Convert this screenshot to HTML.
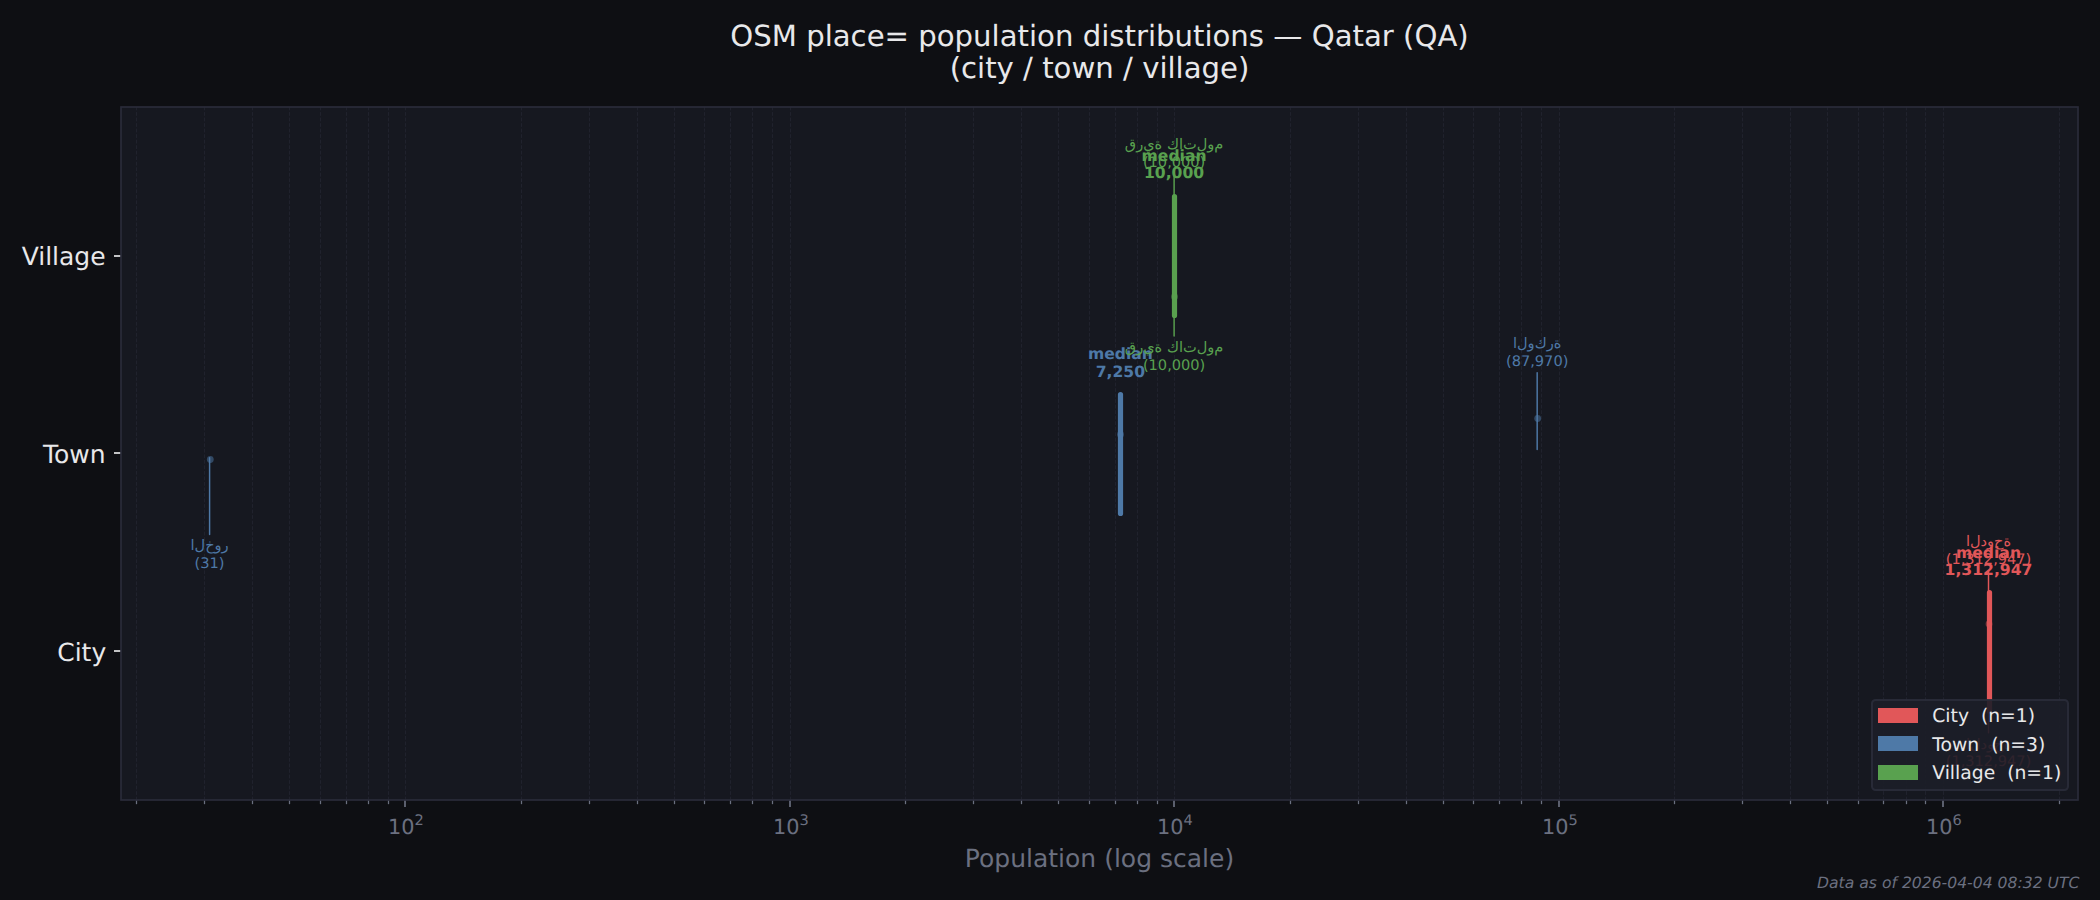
<!DOCTYPE html>
<html lang="en"><head><meta charset="utf-8"><title>OSM place= population distributions — Qatar (QA)</title>
<style>html,body{margin:0;padding:0;background:#0e0f13;overflow:hidden}svg{display:block}text{font-family:"DejaVu Sans","Liberation Sans",sans-serif;text-rendering:geometricPrecision}
.ar{unicode-bidi:bidi-override;direction:ltr;font-feature-settings:"init" 0,"medi" 0,"fina" 0,"isol" 0,"rlig" 0,"liga" 0,"calt" 0}
</style></head><body>
<svg width="2100" height="900" viewBox="0 0 2100 900">
<rect x="0" y="0" width="2100" height="900" fill="#0e0f13"/>
<rect x="121" y="107" width="1957" height="693" fill="#161820"/>
<g stroke="#2a2c3a" stroke-opacity="0.5" stroke-width="1.000" stroke-dasharray="3.854 1.667" stroke-dashoffset="0.50" fill="none">
<path d="M136.5 800 V107"/>
<path d="M204.5 800 V107"/>
<path d="M252.5 800 V107"/>
<path d="M289.5 800 V107"/>
<path d="M320.5 800 V107"/>
<path d="M346.5 800 V107"/>
<path d="M368.5 800 V107"/>
<path d="M388.5 800 V107"/>
<path d="M405.5 800 V107"/>
<path d="M521.5 800 V107"/>
<path d="M589.5 800 V107"/>
<path d="M637.5 800 V107"/>
<path d="M674.5 800 V107"/>
<path d="M704.5 800 V107"/>
<path d="M730.5 800 V107"/>
<path d="M752.5 800 V107"/>
<path d="M772.5 800 V107"/>
<path d="M790.5 800 V107"/>
<path d="M905.5 800 V107"/>
<path d="M973.5 800 V107"/>
<path d="M1021.5 800 V107"/>
<path d="M1058.5 800 V107"/>
<path d="M1089.5 800 V107"/>
<path d="M1115.5 800 V107"/>
<path d="M1137.5 800 V107"/>
<path d="M1157.5 800 V107"/>
<path d="M1174.5 800 V107"/>
<path d="M1290.5 800 V107"/>
<path d="M1358.5 800 V107"/>
<path d="M1406.5 800 V107"/>
<path d="M1443.5 800 V107"/>
<path d="M1473.5 800 V107"/>
<path d="M1499.5 800 V107"/>
<path d="M1521.5 800 V107"/>
<path d="M1541.5 800 V107"/>
<path d="M1559.5 800 V107"/>
<path d="M1674.5 800 V107"/>
<path d="M1742.5 800 V107"/>
<path d="M1790.5 800 V107"/>
<path d="M1827.5 800 V107"/>
<path d="M1858.5 800 V107"/>
<path d="M1883.5 800 V107"/>
<path d="M1906.5 800 V107"/>
<path d="M1925.5 800 V107"/>
<path d="M1943.5 800 V107"/>
<path d="M2059.5 800 V107"/>
</g>
<circle cx="1989.01" cy="624.00" r="3.400" fill="#e15759" fill-opacity="0.5"/>
<circle cx="210.29" cy="459.50" r="3.400" fill="#4e79a7" fill-opacity="0.5"/>
<circle cx="1120.50" cy="434.50" r="3.400" fill="#4e79a7" fill-opacity="0.5"/>
<circle cx="1537.67" cy="418.50" r="3.400" fill="#4e79a7" fill-opacity="0.5"/>
<circle cx="1174.50" cy="296.70" r="3.400" fill="#59a14f" fill-opacity="0.5"/>
<text x="1988.51" y="557.57" font-size="15.625" fill="#e15759" text-anchor="middle" font-weight="bold">median</text>
<text x="1988.51" y="575.06" font-size="15.625" fill="#e15759" text-anchor="middle" font-weight="bold">1,312,947</text>
<text x="1120.40" y="359.27" font-size="15.625" fill="#4e79a7" text-anchor="middle" font-weight="bold">median</text>
<text x="1120.40" y="376.76" font-size="15.625" fill="#4e79a7" text-anchor="middle" font-weight="bold">7,250</text>
<text x="1174.10" y="160.87" font-size="15.625" fill="#59a14f" text-anchor="middle" font-weight="bold">median</text>
<text x="1174.10" y="178.36" font-size="15.625" fill="#59a14f" text-anchor="middle" font-weight="bold">10,000</text>
<path d="M1989.50 592.50 V711.50" stroke="#e15759" stroke-width="5.208" stroke-linecap="round" fill="none"/>
<path d="M1120.50 394.50 V513.50" stroke="#4e79a7" stroke-width="5.208" stroke-linecap="round" fill="none"/>
<path d="M1174.50 196.50 V315.50" stroke="#59a14f" stroke-width="5.208" stroke-linecap="round" fill="none"/>
<path d="M1988.51 571.10 V647.73" stroke="#e15759" stroke-width="1.458" stroke-linecap="round" fill="none"/>
<text x="1988.51" y="545.97" font-size="14.583" fill="#e15759" text-anchor="middle" class="ar">الدوحة</text>
<text x="1988.51" y="563.87" font-size="14.583" fill="#e15759" text-anchor="middle">(1,312,947)</text>
<path d="M1988.51 732.80 V656.07" stroke="#e15759" stroke-width="1.458" stroke-linecap="round" fill="none"/>
<text x="1988.51" y="748.50" font-size="14.583" fill="#e15759" text-anchor="middle" class="ar">الدوحة</text>
<text x="1988.51" y="766.30" font-size="14.583" fill="#e15759" text-anchor="middle">(1,312,947)</text>
<path d="M1537.17 372.80 V449.43" stroke="#4e79a7" stroke-width="1.458" stroke-linecap="round" fill="none"/>
<text x="1537.17" y="347.67" font-size="14.583" fill="#4e79a7" text-anchor="middle" class="ar">الوكرة</text>
<text x="1537.17" y="365.57" font-size="14.583" fill="#4e79a7" text-anchor="middle">(87,970)</text>
<path d="M209.59 534.50 V457.77" stroke="#4e79a7" stroke-width="1.458" stroke-linecap="round" fill="none"/>
<text x="209.59" y="550.20" font-size="14.583" fill="#4e79a7" text-anchor="middle" class="ar">الخور</text>
<text x="209.59" y="568.00" font-size="14.583" fill="#4e79a7" text-anchor="middle">(31)</text>
<path d="M1174.10 174.40 V251.03" stroke="#59a14f" stroke-width="1.458" stroke-linecap="round" fill="none"/>
<text x="1174.10" y="149.27" font-size="14.583" fill="#59a14f" text-anchor="middle" class="ar">قرية كاتلوم</text>
<text x="1174.10" y="167.17" font-size="14.583" fill="#59a14f" text-anchor="middle">(10,000)</text>
<path d="M1174.10 336.10 V259.37" stroke="#59a14f" stroke-width="1.458" stroke-linecap="round" fill="none"/>
<text x="1174.10" y="351.80" font-size="14.583" fill="#59a14f" text-anchor="middle" class="ar">قرية كاتلوم</text>
<text x="1174.10" y="369.60" font-size="14.583" fill="#59a14f" text-anchor="middle">(10,000)</text>
<g stroke="#6b7080" fill="none">
<path d="M405 800 V807" stroke-width="1.667"/>
<path d="M790 800 V807" stroke-width="1.667"/>
<path d="M1174 800 V807" stroke-width="1.667"/>
<path d="M1559 800 V807" stroke-width="1.667"/>
<path d="M1943 800 V807" stroke-width="1.667"/>
<path d="M136.5 800 V804.17" stroke-width="1.250"/>
<path d="M204.5 800 V804.17" stroke-width="1.250"/>
<path d="M252.5 800 V804.17" stroke-width="1.250"/>
<path d="M289.5 800 V804.17" stroke-width="1.250"/>
<path d="M320.5 800 V804.17" stroke-width="1.250"/>
<path d="M346.5 800 V804.17" stroke-width="1.250"/>
<path d="M368.5 800 V804.17" stroke-width="1.250"/>
<path d="M388.5 800 V804.17" stroke-width="1.250"/>
<path d="M521.5 800 V804.17" stroke-width="1.250"/>
<path d="M589.5 800 V804.17" stroke-width="1.250"/>
<path d="M637.5 800 V804.17" stroke-width="1.250"/>
<path d="M674.5 800 V804.17" stroke-width="1.250"/>
<path d="M704.5 800 V804.17" stroke-width="1.250"/>
<path d="M730.5 800 V804.17" stroke-width="1.250"/>
<path d="M752.5 800 V804.17" stroke-width="1.250"/>
<path d="M772.5 800 V804.17" stroke-width="1.250"/>
<path d="M905.5 800 V804.17" stroke-width="1.250"/>
<path d="M973.5 800 V804.17" stroke-width="1.250"/>
<path d="M1021.5 800 V804.17" stroke-width="1.250"/>
<path d="M1058.5 800 V804.17" stroke-width="1.250"/>
<path d="M1089.5 800 V804.17" stroke-width="1.250"/>
<path d="M1115.5 800 V804.17" stroke-width="1.250"/>
<path d="M1137.5 800 V804.17" stroke-width="1.250"/>
<path d="M1157.5 800 V804.17" stroke-width="1.250"/>
<path d="M1290.5 800 V804.17" stroke-width="1.250"/>
<path d="M1358.5 800 V804.17" stroke-width="1.250"/>
<path d="M1406.5 800 V804.17" stroke-width="1.250"/>
<path d="M1443.5 800 V804.17" stroke-width="1.250"/>
<path d="M1473.5 800 V804.17" stroke-width="1.250"/>
<path d="M1499.5 800 V804.17" stroke-width="1.250"/>
<path d="M1521.5 800 V804.17" stroke-width="1.250"/>
<path d="M1541.5 800 V804.17" stroke-width="1.250"/>
<path d="M1674.5 800 V804.17" stroke-width="1.250"/>
<path d="M1742.5 800 V804.17" stroke-width="1.250"/>
<path d="M1790.5 800 V804.17" stroke-width="1.250"/>
<path d="M1827.5 800 V804.17" stroke-width="1.250"/>
<path d="M1858.5 800 V804.17" stroke-width="1.250"/>
<path d="M1883.5 800 V804.17" stroke-width="1.250"/>
<path d="M1906.5 800 V804.17" stroke-width="1.250"/>
<path d="M1925.5 800 V804.17" stroke-width="1.250"/>
<path d="M2059.5 800 V804.17" stroke-width="1.250"/>
</g>
<g stroke="#e8e8ea" fill="none" stroke-width="1.667">
<path d="M121 651 H114"/>
<path d="M121 453 H114"/>
<path d="M121 256 H114"/>
</g>
<rect x="121" y="107" width="1957" height="693" fill="none" stroke="#2a2c3a" stroke-width="1.667"/>
<text x="388.00" y="833.80" font-size="20.833" fill="#6b7080">10<tspan dx="0.00" dy="-8.60" font-size="14.583">2</tspan></text>
<text x="773.00" y="833.80" font-size="20.833" fill="#6b7080">10<tspan dx="0.00" dy="-8.60" font-size="14.583">3</tspan></text>
<text x="1157.00" y="833.80" font-size="20.833" fill="#6b7080">10<tspan dx="0.00" dy="-8.60" font-size="14.583">4</tspan></text>
<text x="1542.00" y="833.80" font-size="20.833" fill="#6b7080">10<tspan dx="0.00" dy="-8.60" font-size="14.583">5</tspan></text>
<text x="1926.00" y="833.80" font-size="20.833" fill="#6b7080">10<tspan dx="0.00" dy="-8.60" font-size="14.583">6</tspan></text>
<text x="106.22" y="661.40" font-size="25.000" fill="#e8e8ea" text-anchor="end">City</text>
<text x="105.62" y="463.30" font-size="25.000" fill="#e8e8ea" text-anchor="end">Town</text>
<text x="105.62" y="264.90" font-size="25.000" fill="#e8e8ea" text-anchor="end">Village</text>
<text x="1099.50" y="866.90" font-size="25.000" fill="#6b7080" text-anchor="middle">Population (log scale)</text>
<text x="1099.50" y="45.60" font-size="29.167" fill="#e8e8ea" text-anchor="middle">OSM place= population distributions — Qatar (QA)</text>
<text x="1099.50" y="78.00" font-size="29.167" fill="#e8e8ea" text-anchor="middle">(city / town / village)</text>
<rect x="1872" y="700" width="196" height="90" rx="3.75" ry="3.75" fill="#1c1e28" fill-opacity="0.9" stroke="#2a2c3a" stroke-opacity="0.9" stroke-width="2.083"/>
<rect x="1878" y="708" width="40" height="15" fill="#e15759"/>
<text x="1932.25" y="721.70" font-size="18.750" fill="#e8e8ea" xml:space="preserve" style="white-space:pre">City  (n=1)</text>
<rect x="1878" y="736" width="40" height="15" fill="#4e79a7"/>
<text x="1932.25" y="750.50" font-size="18.750" fill="#e8e8ea" xml:space="preserve" style="white-space:pre">Town  (n=3)</text>
<rect x="1878" y="765" width="40" height="15" fill="#59a14f"/>
<text x="1932.25" y="778.90" font-size="18.750" fill="#e8e8ea" xml:space="preserve" style="white-space:pre">Village  (n=1)</text>
<text x="2079.40" y="887.90" font-size="15.625" fill="#6b7080" text-anchor="end" font-style="italic">Data as of 2026-04-04 08:32 UTC</text>
</svg></body></html>
